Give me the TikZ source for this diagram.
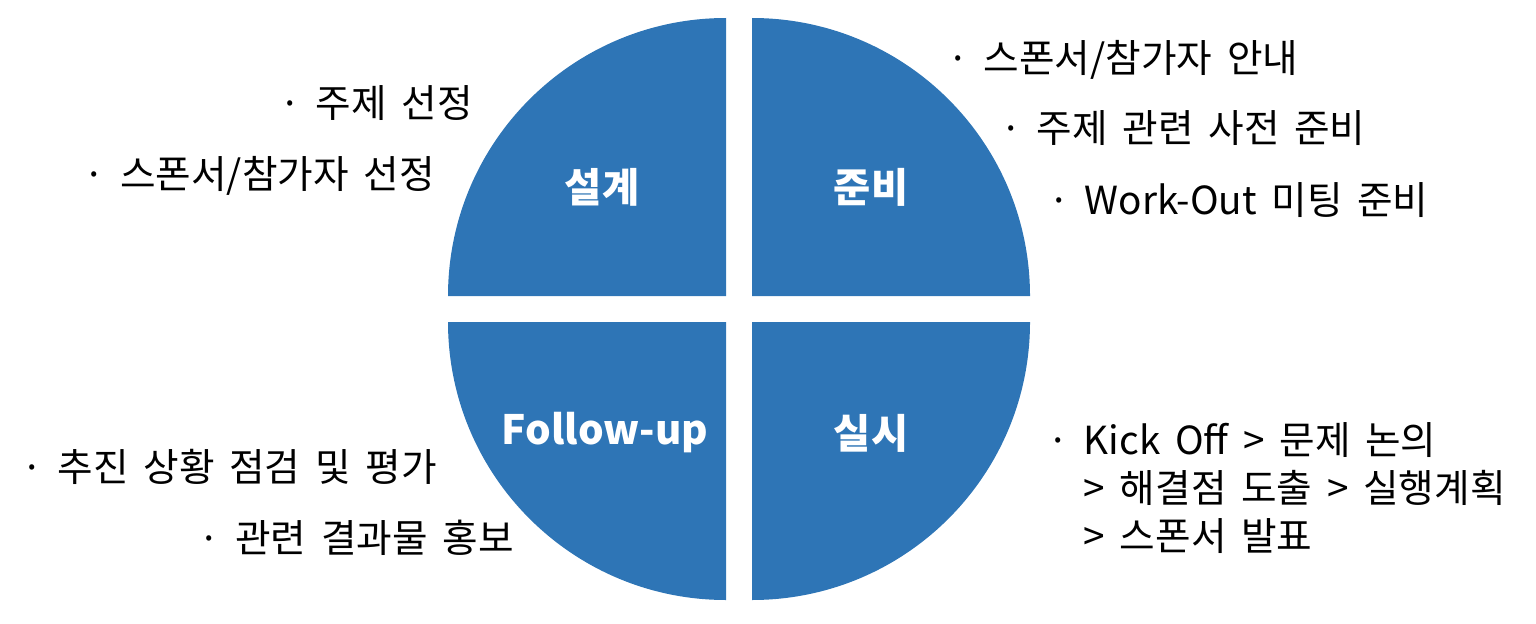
\documentclass[tikz,border=0pt]{standalone}
\usepackage{fontspec}
\setmainfont[WordSpace=1.7]{Noto Sans CJK KR}
\definecolor{pieblue}{HTML}{2E75B6}
\tikzset{
  quarter/.style={fill=pieblue},
  phase/.style={text=white, font=\bfseries\fontsize{23}{27}\selectfont, inner sep=0pt},
  task/.style={font=\fontsize{22}{27.3}\selectfont, inner sep=0pt}
}
\begin{document}
\begin{tikzpicture}[scale=1]
\useasboundingbox (0,0) rectangle (30.72,12.46);

% ---------- quarters ----------
\fill[quarter] (14.52,6.54) -- ++(180:5.56) arc[start angle=180, end angle=90, radius=5.56] -- cycle;
\fill[quarter] (15.04,6.54) -- ++(0:5.56) arc[start angle=0, end angle=90, radius=5.56] -- cycle;
\fill[quarter] (14.52,6.02) -- ++(180:5.56) arc[start angle=180, end angle=270, radius=5.56] -- cycle;
\fill[quarter] (15.04,6.02) -- ++(0:5.56) arc[start angle=0, end angle=-90, radius=5.56] -- cycle;

% ---------- phases ----------
\node[phase] (design) at (12.04,8.72) {설계};
\node[phase] (prepare) at (17.42,8.72) {준비};
\node[phase] (follow) at (12.10,3.80) {Follow-up};
\node[phase] (run) at (17.42,3.80) {실시};

% ---------- 설계 ----------
\node[task, anchor=east] (d1) at (9.46,10.40) {· 주제 선정};
\node[task, anchor=east] (d2) at (8.70,8.94) {· 스폰서/참가자 선정};

% ---------- 준비 ----------
\node[task, anchor=west] (p1) at (18.94,11.26) {· 스폰서/참가자 안내};
\node[task, anchor=west] (p2) at (20.00,9.90) {· 주제 관련 사전 준비};
\node[task, anchor=west] (p3) at (20.96,8.46) {· Work-Out 미팅 준비};

% ---------- 실시 ----------
\node[task, anchor=west, align=left] (r1) at (20.94,2.70)
  {· Kick Off > 문제 논의\\ \phantom{·} > 해결점 도출 > 실행계획\\ \phantom{·} > 스폰서 발표};

% ---------- Follow-up ----------
\node[task, anchor=east] (f1) at (8.74,3.12) {· 추진 상황 점검 및 평가};
\node[task, anchor=east] (f2) at (10.28,1.70) {· 관련 결과물 홍보};

\end{tikzpicture}
\end{document}
